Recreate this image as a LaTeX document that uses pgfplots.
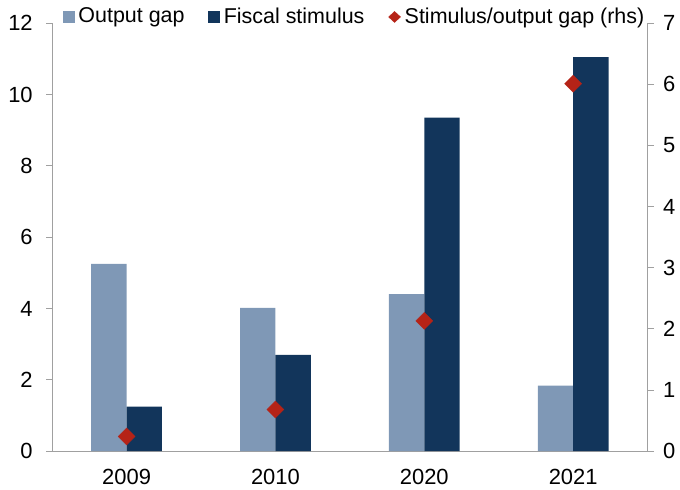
\documentclass[border=0pt]{standalone}
\usepackage{fontspec}
\setmainfont{Liberation Sans}
\usepackage{pgfplots}
\pgfplotsset{compat=1.18}
\definecolor{lightbar}{HTML}{7F98B6}
\definecolor{darkbar}{HTML}{12355B}
\definecolor{diam}{HTML}{B52317}
\definecolor{axgray}{HTML}{A0A0A0}
\begin{document}
\fontsize{22}{26}\selectfont
\begin{tikzpicture}
\pgfplotsset{
  every axis/.append style={
    scale only axis, width=597pt, height=429pt,
    xmin=-0.5, xmax=3.5,
    /pgf/number format/assume math mode=true,
    tick label style={font=\fontsize{22}{26}\selectfont},
    axis line style={axgray, line width=0.9pt},
    every tick/.style={axgray, line width=0.9pt},
    tick align=outside,
  }
}
\begin{axis}[
  axis y line*=left, axis x line*=bottom,
  ymin=0, ymax=12, ytick={0,2,...,12},
  major tick length=6pt,
  xtick={0,1,2,3}, xticklabels={2009,2010,2020,2021},
  x tick style={draw=none},
  minor xtick={-0.5,0.5,1.5,2.5,3.5},
  minor tick length=7pt,
  minor x tick style={axgray, line width=0.9pt},
  xticklabel style={yshift=-5pt},
  ybar, bar width=35.5pt,
  yticklabel style={xshift=-6pt},
]
\addplot[fill=lightbar, draw=none, bar shift=-17.75pt] coordinates {(0,5.25) (1,4.02) (2,4.40) (3,1.84)};
\addplot[fill=darkbar, draw=none, bar shift=17.75pt] coordinates {(0,1.25) (1,2.70) (2,9.35) (3,11.05)};
\end{axis}
\begin{axis}[
  axis y line*=right, axis x line=none,
  ymin=0, ymax=7, ytick={0,1,...,7},
  major tick length=6.5pt,
  yticklabel style={xshift=1.5pt},
  legend style={draw=none, fill=none, inner sep=0pt, at={(0.018,1.0147)}, anchor=west,
    legend columns=-1, font=\fontsize{21.5}{25}\selectfont,
    /tikz/every odd column/.append style={column sep=2pt},
    /tikz/every even column/.append style={column sep=22pt},
    legend cell align=left},
]
\addlegendimage{legend image code/.code={\fill[lightbar] (0pt,-5pt) rectangle (11pt,5.5pt);}}
\addlegendentry{Output gap}
\addlegendimage{legend image code/.code={\fill[darkbar] (0pt,-5pt) rectangle (11pt,5.5pt);}}
\addlegendentry{Fiscal stimulus}
\addplot[only marks, mark=square*, mark size=6pt, mark options={diam, rotate=45},
  legend image code/.code={\fill[diam] (0pt,0pt) -- (6pt,5.5pt) -- (12pt,0pt) -- (6pt,-5.5pt) -- cycle;}]
  coordinates {(0,0.24) (1,0.68) (2,2.13) (3,6.01)};
\addlegendentry{Stimulus/output gap (rhs)}
\end{axis}
\pgfresetboundingbox
\path (-52.3pt,-38.7pt) rectangle (629.5pt,452.3pt);
\end{tikzpicture}
\end{document}
